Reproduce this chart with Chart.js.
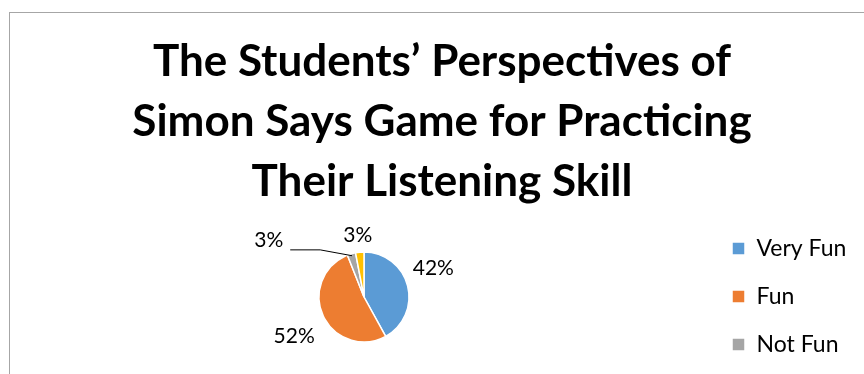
<!DOCTYPE html>
<html>
<head>
<meta charset="utf-8">
<script src="https://cdn.jsdelivr.net/npm/chart.js@4.4.0/dist/chart.umd.min.js"></script>
<style>
  html, body { margin: 0; padding: 0; background: #fff; overflow: hidden; }
  #frame { position: absolute; left: 9px; top: 12px; border: 1px solid #a6a6a6; }
  #box { position: relative; width: 866px; height: 615px; }
</style>
</head>
<body>
<div id="frame"><div id="box"><canvas id="chart"></canvas></div></div>
<script>
// data
const categories = ['Very Fun', 'Fun', 'Not Fun', 'Very Not Fun'];
const percents = [42, 52, 3, 3];
const sliceColors = ['#5B9BD5', '#ED7D31', '#A5A5A5', '#FFC000'];
const titleLines = ['The Students\u2019 Perspectives of', 'Simon Says Game for Practicing', 'Their Listening Skill'];

// percent labels outside the pie (like excel "best fit")
const pieLabels = {
  id: 'pieLabels',
  afterDatasetsDraw(chart) {
    const ctx = chart.ctx;
    const meta = chart.getDatasetMeta(0);
    const total = percents.reduce((a, b) => a + b, 0);
    const nudge = [[0, -14], [-5, 14], [-77, 0], [0, -3]]; // small shifts, px
    ctx.save();
    ctx.font = '21px Lato';
    ctx.fillStyle = '#000';
    ctx.textAlign = 'center';
    ctx.textBaseline = 'middle';
    meta.data.forEach((arc, i) => {
      const p = arc.getProps(['x', 'y', 'startAngle', 'endAngle', 'outerRadius'], true);
      const mid = (p.startAngle + p.endAngle) / 2;
      const ux = Math.cos(mid), uy = Math.sin(mid);
      const text = Math.round(percents[i] / total * 100) + '%';
      const w = ctx.measureText(text).width, h = 17;
      const r = p.outerRadius + 6;
      const cx = p.x + r * ux + w / 2 * ux + nudge[i][0];
      const cy = p.y + r * uy + h / 2 * uy + nudge[i][1];
      ctx.fillText(text, cx, cy);
      if (i === 2) {
        // leader line for the small slice
        const sx = cx + w / 2 + 7, sy = cy + 10;
        ctx.beginPath();
        ctx.moveTo(sx, sy);
        ctx.lineTo(sx + 30, sy);
        ctx.lineTo(p.x + (p.outerRadius - 2) * ux, p.y + (p.outerRadius - 2) * uy);
        ctx.strokeStyle = '#000';
        ctx.lineWidth = 1;
        ctx.stroke();
      }
    });
    ctx.restore();
  }
};

const ctx = document.getElementById('chart').getContext('2d');
new Chart(ctx, {
  type: 'pie',
  data: {
    labels: categories,
    datasets: [{
      data: percents,
      backgroundColor: sliceColors,
      borderColor: '#ffffff',
      borderWidth: 1.5,
      radius: 45
    }]
  },
  options: {
    responsive: true,
    maintainAspectRatio: false,
    animation: false,
    layout: { padding: { left: 11, right: 13, top: 0, bottom: 0 } },
    plugins: {
      tooltip: { enabled: false },
      title: {
        display: true,
        text: titleLines,
        color: '#000',
        font: { family: 'Lato', size: 44, weight: 'bold', lineHeight: 60 / 44 },
        padding: { top: 19, bottom: 20 }
      },
      subtitle: {
        // empty spacer so the pie sits where excel put it
        display: true,
        position: 'bottom',
        text: '',
        font: { size: 12, lineHeight: 1 },
        padding: { top: 254, bottom: 0 }
      },
      legend: {
        position: 'right',
        align: 'center',
        maxWidth: 156,
        labels: {
          color: '#000',
          font: { family: 'Lato', size: 23 },
          boxWidth: 13,
          boxHeight: 13,
          padding: 25
        }
      }
    }
  },
  plugins: [pieLabels]
});
</script>
</body>
</html>
